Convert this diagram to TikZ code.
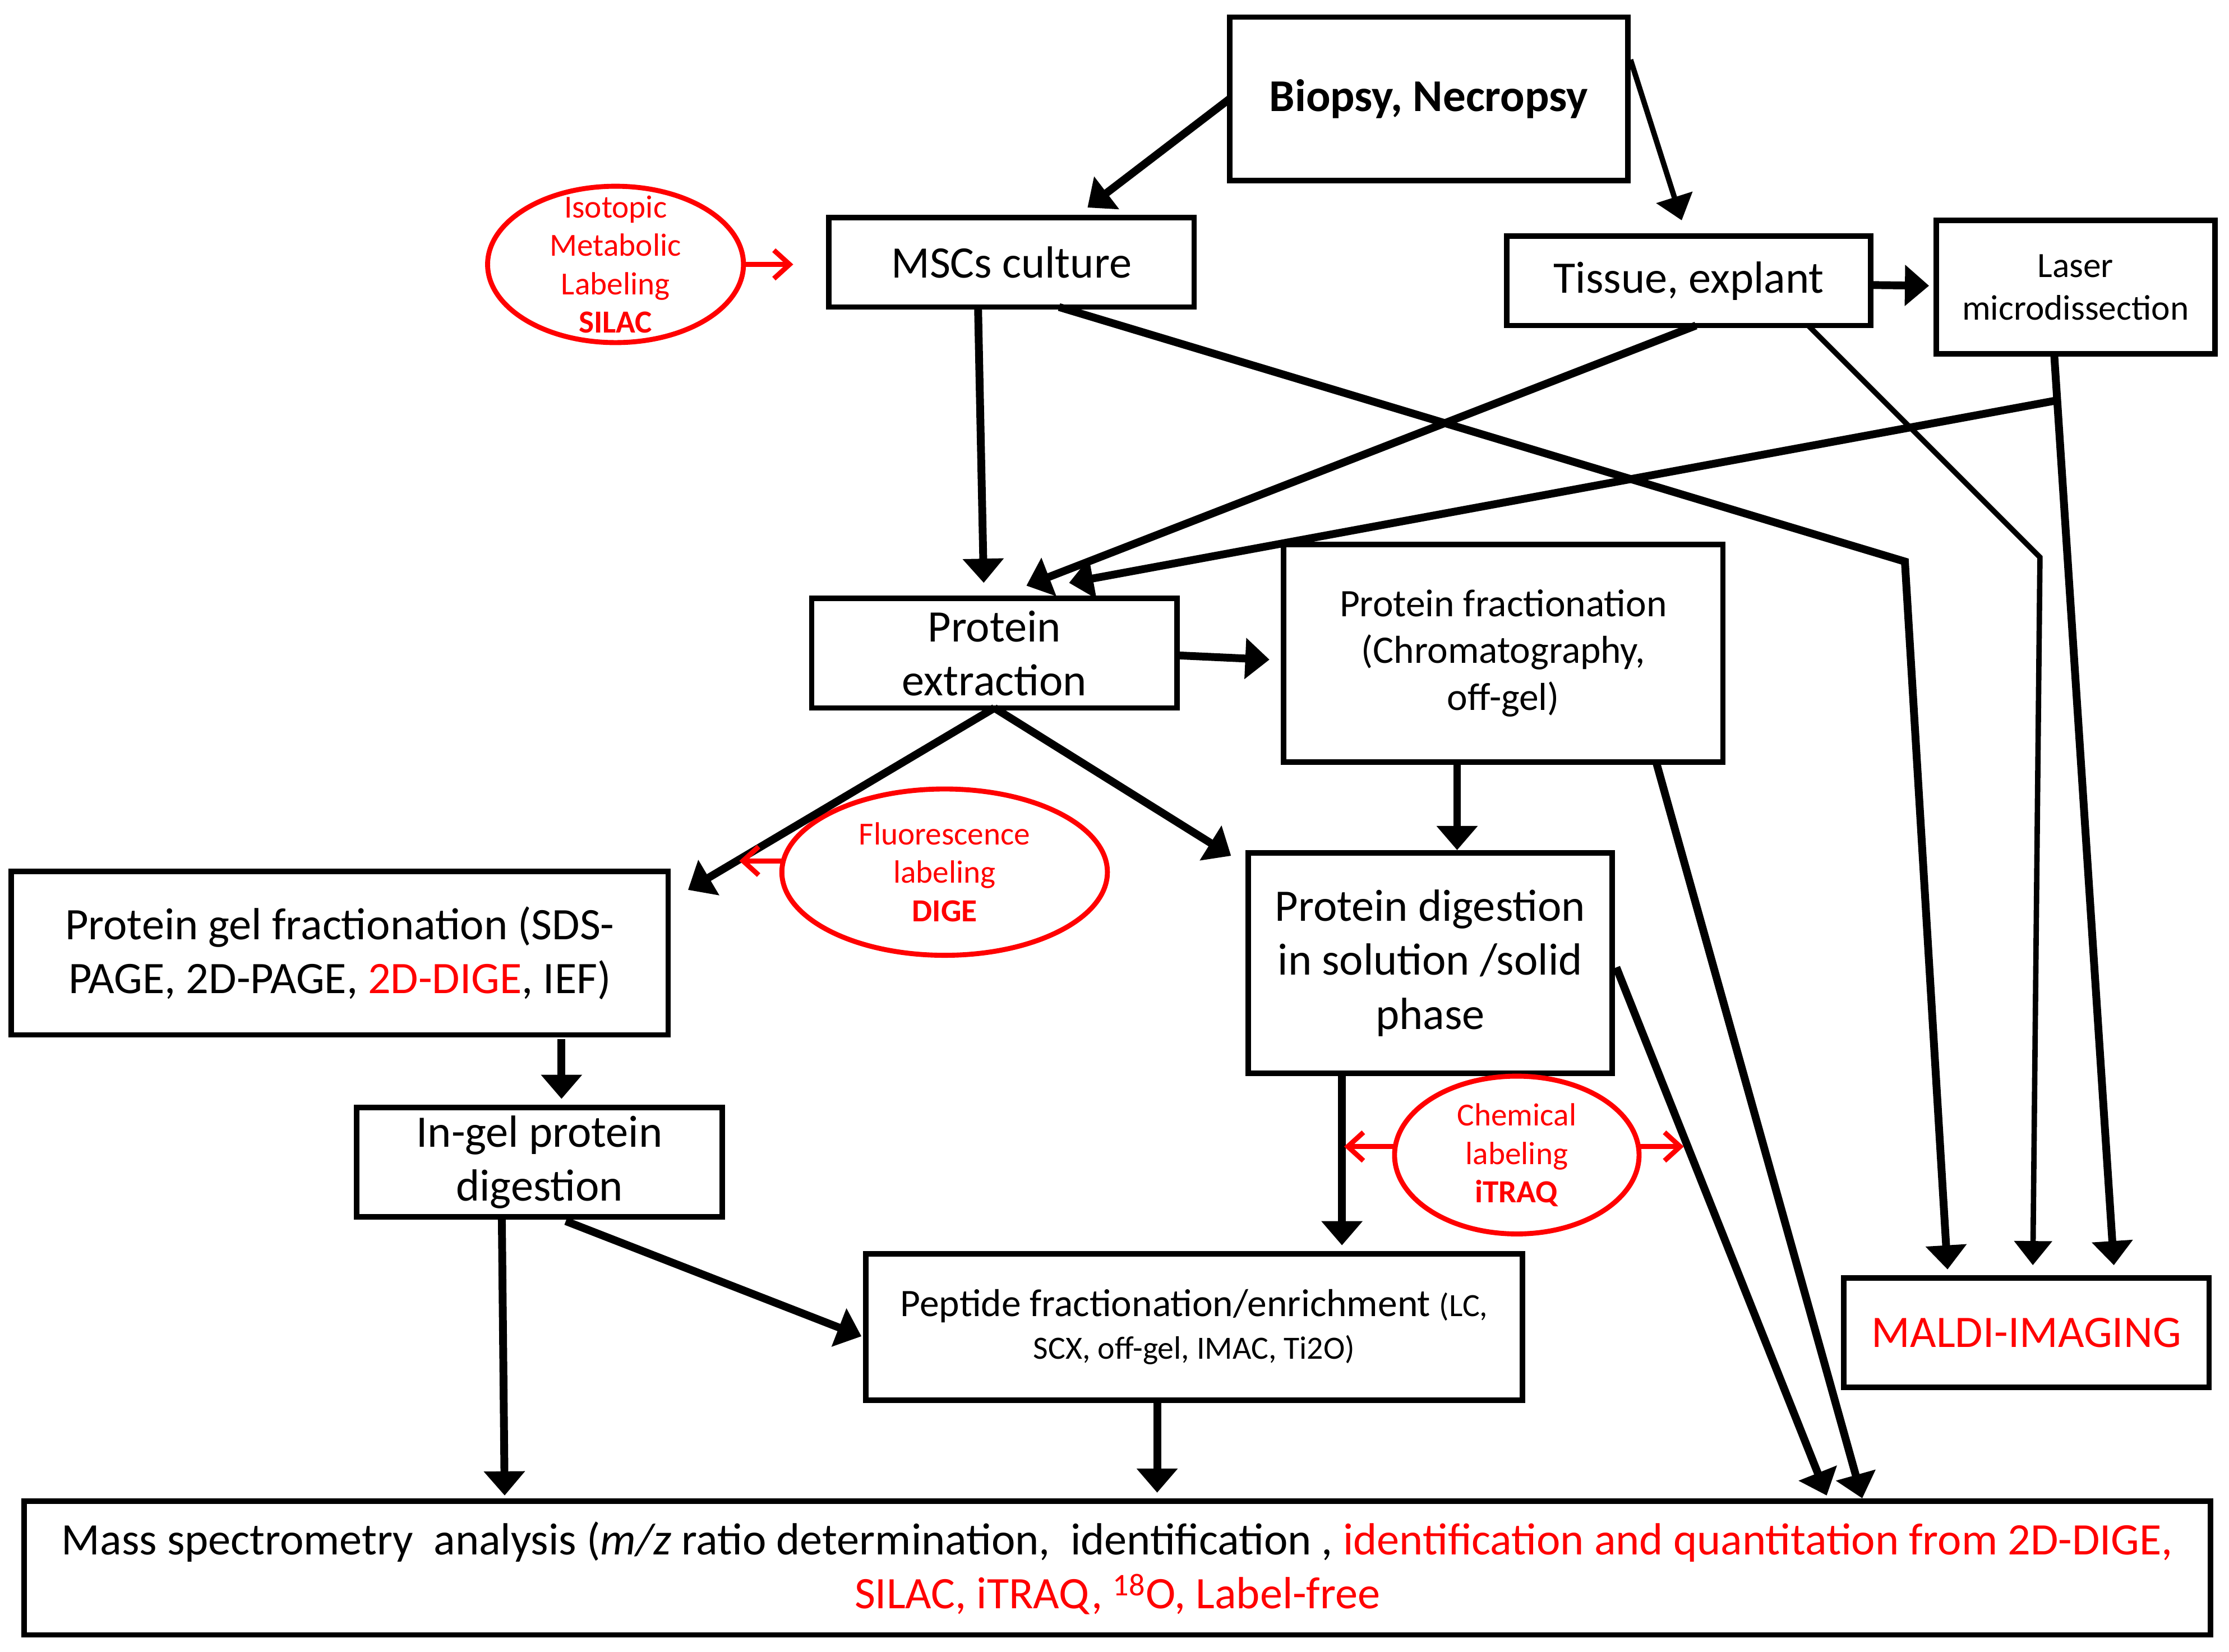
\documentclass[tikz,border=0pt]{standalone}
\usepackage{fontspec}
\setmainfont{Carlito}
\usetikzlibrary{arrows.meta,calc,shapes.geometric}
\begin{document}
\begin{tikzpicture}[x=1pt,y=-1pt,
  box/.style={draw,line width=3.8pt,rectangle,inner sep=0pt,outer sep=0pt,align=center,font=\fontsize{31.7}{38}\selectfont},
  lab/.style={draw=red,line width=3.5pt,ellipse,inner sep=0pt,outer sep=0pt},
  labtext/.style={text=red,inner sep=0pt,align=center,font=\fontsize{22.6}{27}\selectfont},
  arr/.style={line width=5.5pt,-{Triangle[length=17pt,width=28pt]}},
  thinarr/.style={line width=3.8pt,-{Triangle[length=17pt,width=26pt]}},
  rarr/.style={red,line width=3.5pt,-{Straight Barb[length=11pt,width=20pt]}},
]
\useasboundingbox (0,0) rectangle (1568,1162);

% boxes
\node[box,minimum width=280pt,minimum height=115pt,font=\fontsize{32}{38}\selectfont\bfseries] (bio) at (1005,69.5) {Biopsy, Necropsy};
\node[box,minimum width=257pt,minimum height=63pt] (msc) at (711.5,184.5) {MSCs culture};
\node[box,minimum width=256pt,minimum height=63pt] (tis) at (1188,197.5) {Tissue, explant};
\node[box,minimum width=196pt,minimum height=94pt,font=\fontsize{25}{30}\selectfont] (lmd) at (1460,202) {Laser\\microdissection};
\node[box,minimum width=257pt,minimum height=77pt] (pex) at (699.5,459.5) {Protein\\extraction};
\node[box,minimum width=309pt,minimum height=153pt,font=\fontsize{27.4}{33}\selectfont] (pfr) at (1057.5,459.5) {Protein fractionation\\(Chromatography,\\off-gel)};
\node[box,minimum width=462pt,minimum height=115pt] (gel) at (239,670.5) {Protein gel fractionation (SDS-\\PAGE, 2D-PAGE, \textcolor{red}{2D-DIGE}, IEF)};
\node[box,minimum width=256pt,minimum height=155pt] (pdg) at (1006,677.5) {Protein digestion\\in solution /solid\\phase};
\node[box,minimum width=257pt,minimum height=77pt] (ing) at (379.5,817.5) {In-gel protein\\digestion};
\node[box,minimum width=462pt,minimum height=103pt,font=\fontsize{27.4}{30}\selectfont] (pep) at (840,933.5) {Peptide fractionation/enrichment {\fontsize{22.8}{30}\selectfont(LC,}\\\fontsize{22.8}{30}\selectfont SCX, off-gel, IMAC, Ti2O)};
\node[box,minimum width=257pt,minimum height=77pt,text=red] (mal) at (1425.5,937.5) {MALDI-IMAGING};
\node[box,minimum width=1538pt,minimum height=94pt] (ms) at (786,1103) {Mass spectrometry\ \ analysis (\textit{m/z} ratio determination,\ \ identification , \textcolor{red}{identification and quantitation from 2D-DIGE,}\\\textcolor{red}{SILAC, iTRAQ, \textsuperscript{18}O, Label-free}};

% labelling ellipses
\node[lab,minimum width=180pt,minimum height=110pt] (sil) at (433,186) {};
\node[labtext] (silt) at (sil.center) {Isotopic\\Metabolic\\Labeling\\\textbf{SILAC}};
\node[lab,minimum width=229pt,minimum height=117pt] (dig) at (664.5,613.5) {};
\node[labtext] (digt) at (dig.center) {Fluorescence\\labeling\\\textbf{DIGE}};
\node[lab,minimum width=172pt,minimum height=111pt] (itr) at (1067,812.5) {};
\node[labtext] (itrt) at (itr.center) {Chemical\\labeling\\\textbf{iTRAQ}};

% bend points
\coordinate (b1) at (1340,395);
\coordinate (b2) at (1435,392);
\coordinate (lb) at ($(lmd.south)+(-15,33)$);

% black connectors
\draw[arr] (bio.west) -- ($(msc.north)+(53.5,-7)$);
\draw[thinarr] ($(bio.north east)+(2,30)$) -- ($(tis.north)+(-5,-11)$);
\draw[arr] ($(tis.east)+(0,3)$) -- ($(lmd.west)+(-5,-1)$);
\draw[arr] ($(msc.south)+(-23.5,0)$) -- ($(pex.north)+(-7.5,-11)$);
\draw[arr] ($(tis.south)+(5,0)$) -- ($(pex.north)+(22.5,-9)$);
\draw[arr] (lb) -- ($(pex.north)+(52.5,-11)$);
\draw[arr] ($(lmd.south)+(-15,0)$) -- ($(mal.north)+(61.5,-9)$);
\draw[arr] ($(msc.south)+(33.5,0)$) -- (b1) -- ($(mal.north)+(-55.5,-6)$);
\draw[thinarr] ($(tis.south)+(84,0)$) -- (b2) -- ($(mal.north)+(4.5,-9)$);
\draw[arr] ($(pex.east)+(0,1.5)$) -- ($(pfr.west)+(-10,4.5)$);
\draw[arr] (pex.south) -- ($(gel.north east)+(14,13)$);
\draw[arr] (pex.south) -- ($(pdg.north west)+(-12,2)$);
\draw[arr] ($(pfr.south)+(-32.5,0)$) -- ($(pdg.north)+(19,-2)$);
\draw[arr] ($(pfr.south)+(107.5,0)$) -- ($(ms.north)+(524,-2)$);
\draw[arr] ($(pdg.east)+(3,3)$) -- ($(ms.north)+(499,-4)$);
\draw[arr] ($(pdg.south)+(-62,0)$) -- ($(pep.north)+(104,-6)$);
\draw[arr] ($(gel.south)+(156,3)$) -- ($(ing.north)+(15.5,-6)$);
\draw[arr] ($(ing.south)+(-26.5,0)$) -- ($(ms.north)+(-431,-4)$);
\draw[arr] ($(ing.south)+(18.5,3)$) -- ($(pep.west)+(-3,6.5)$);
\draw[arr] ($(pep.south)+(-26,0)$) -- ($(ms.north)+(28,-6)$);

% red connectors
\draw[rarr] (sil.east) -- ($(msc.west)+(-25,1.5)$);
\draw[rarr] (dig.176) -- ($(dig.176)+(-31,0)$);
\draw[rarr] (itr.176) -- ($(itr.176)+(-36,0)$);
\draw[rarr] (itr.4) -- ($(itr.4)+(32,0)$);
\end{tikzpicture}
\end{document}
